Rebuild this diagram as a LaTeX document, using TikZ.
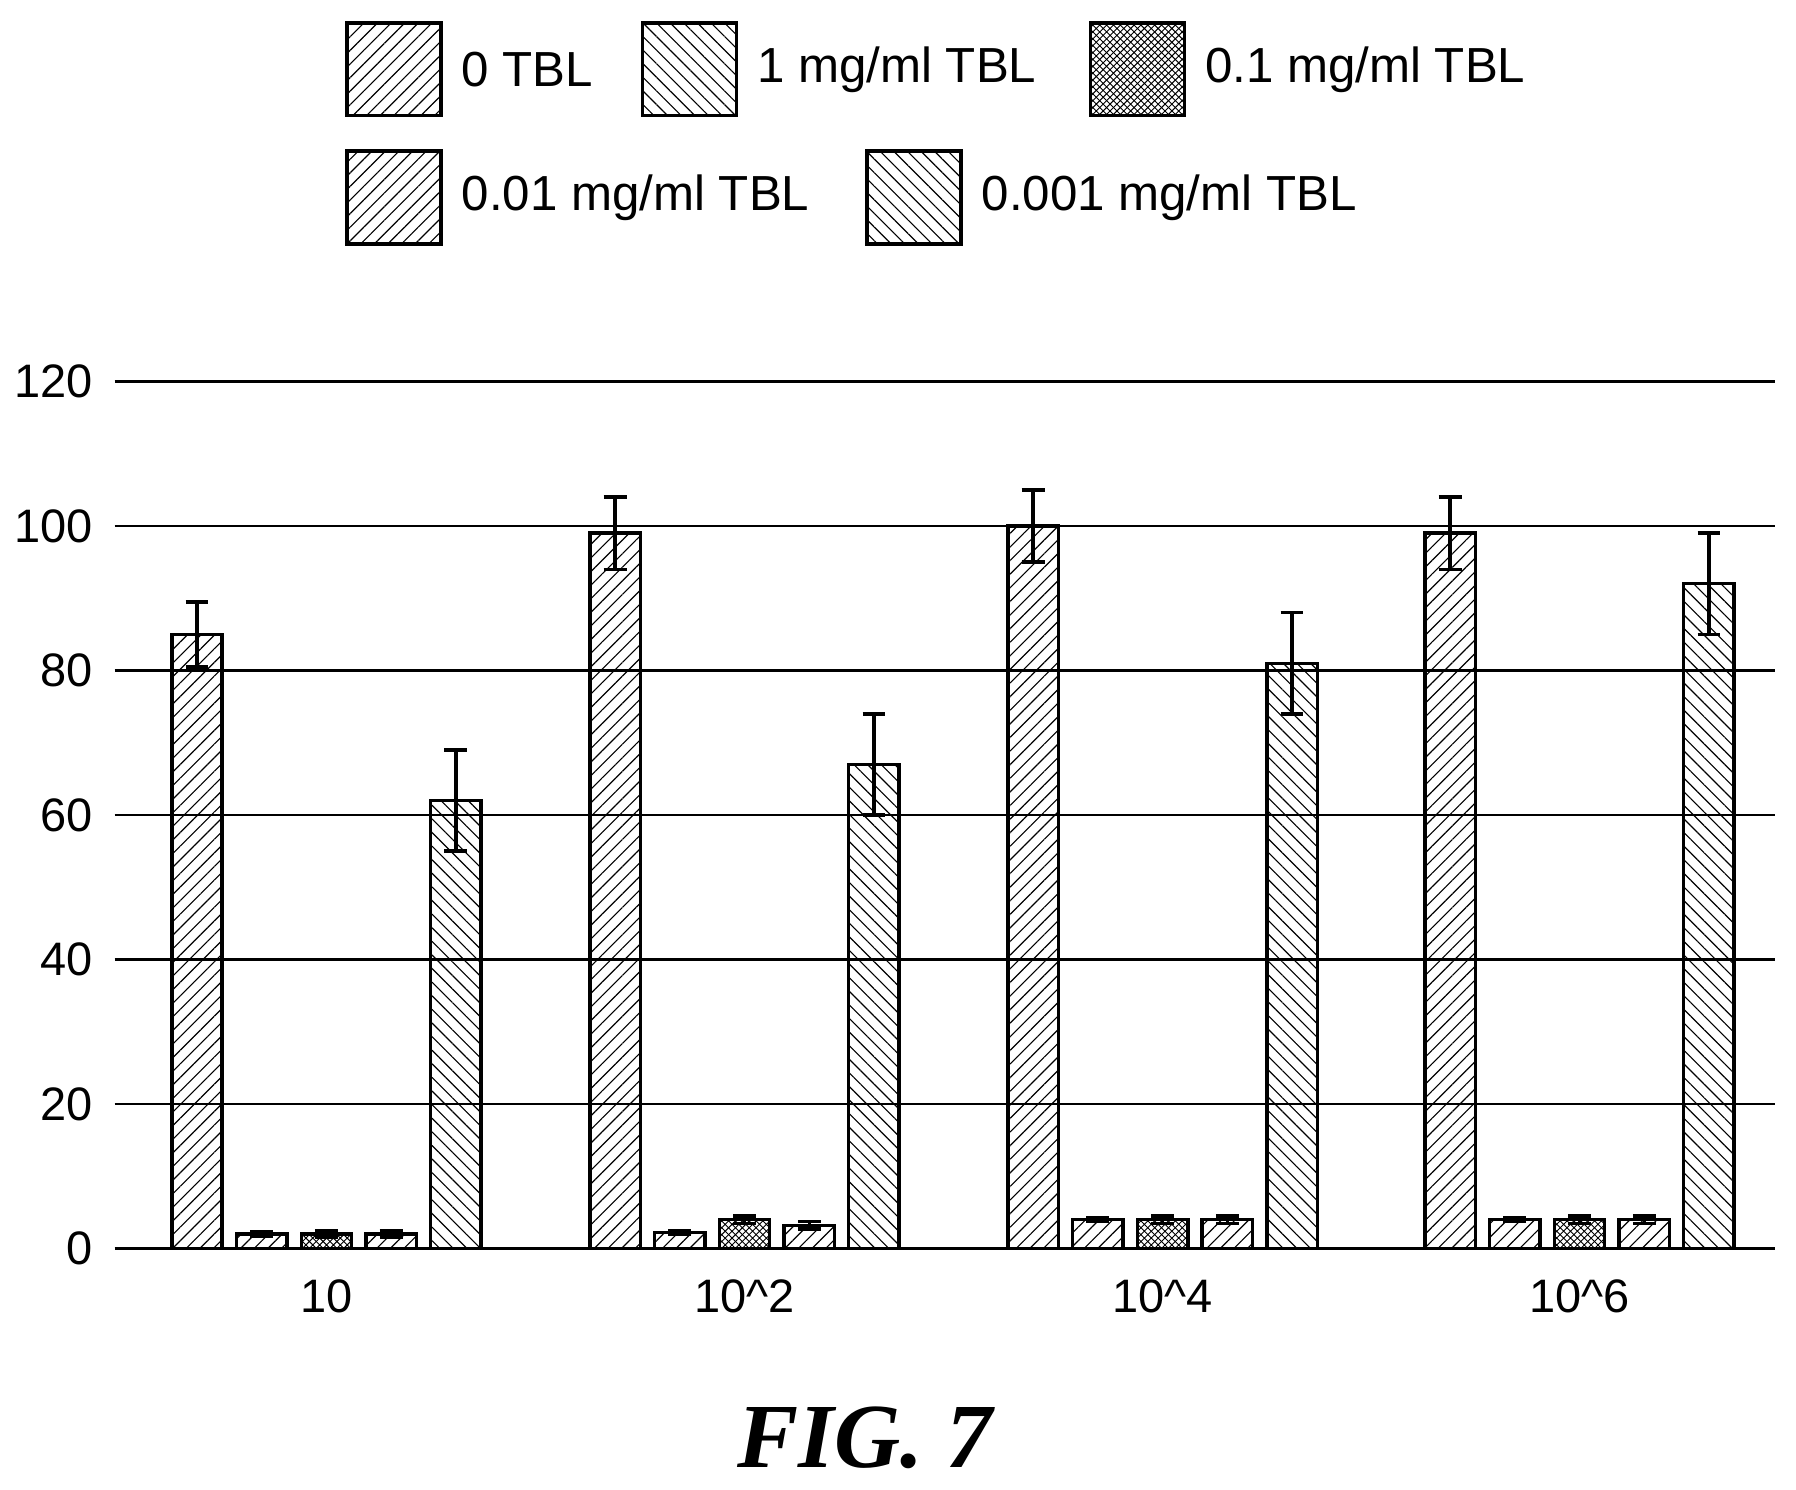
\documentclass[tikz,border=0pt]{standalone}
\usepackage{fontspec}
\setmainfont{Liberation Sans}
\newfontfamily\figfont{Liberation Serif}
\usetikzlibrary{patterns,patterns.meta}
\begin{document}
\begin{tikzpicture}[x=0.5pt,y=-0.5pt,
  bar/.style={draw=black,line width=1.5pt},
  pNE/.style={pattern={Lines[angle=45,distance=4.2pt,line width=0.5pt]}},
  pNW/.style={pattern={Lines[angle=-45,distance=4.2pt,line width=0.5pt]}},
  pCR/.style={pattern=crosshatch},
  grid/.style={line width=1pt},
  err/.style={line width=1.5pt},
  lbl/.style={font=\fontsize{20.5}{24}\selectfont},
  leg/.style={font=\fontsize{21.5}{24}\selectfont}]
\useasboundingbox (0,0) rectangle (1568,1300);
% grid
\foreach \v in {0,20,...,120}{
  \pgfmathsetmacro{\yy}{1090-\v*6.308}
  \draw[grid] (100,\yy) -- (1550,\yy);
  \node[lbl,anchor=east] (t\v) at (88,\yy) {\v};
}
% bars
\def\drawbar#1#2#3#4{% x, value, err, style
  \pgfmathsetmacro{\yt}{1090-#2*6.308}
  \pgfmathsetmacro{\ea}{1090-(#2+#3)*6.308}
  \pgfmathsetmacro{\eb}{1090-(#2-#3)*6.308}
  \filldraw[bar,#4] (#1,1090) rectangle (#1+44,\yt);
  \draw[err] (#1+22,\ea) -- (#1+22,\eb);
  \draw[err] (#1+12,\ea) -- (#1+32,\ea);
  \draw[err] (#1+12,\eb) -- (#1+32,\eb);
}
\foreach \g/\a/\b/\c/\d/\e/\ae/\ee/\lab in {
  150/85/2/2/2/62/4.5/7/10,
  515/99/2.2/4/3.2/67/5/7/10\textasciicircum 2,
  880/100/4/4/4/81/5/7/10\textasciicircum 4,
  1244/99/4/4/4/92/5/7/10\textasciicircum 6}{
  \drawbar{\g}{\a}{\ae}{pNE}
  \drawbar{\g+56.5}{\b}{0.3}{pNE}
  \drawbar{\g+113}{\c}{0.5}{pCR}
  \drawbar{\g+169.5}{\d}{0.5}{pNE}
  \drawbar{\g+226}{\e}{\ee}{pNW}
  \node[lbl] at (\g+135,1132) {\lab};
}
% legend
\foreach \x/\y/\s/\t in {303/20/pNE/{0 TBL}, 561/20/pNW/{1 mg/ml TBL}, 952/20/pCR/{0.1 mg/ml TBL},
  303/132/pNE/{0.01 mg/ml TBL}, 757/132/pNW/{0.001 mg/ml TBL}}{
  \filldraw[bar,\s] (\x,\y) rectangle (\x+82,\y+81);
  \node[leg,anchor=west] at (\x+93,\y+41) {\t};
}
\node[font=\figfont\bfseries\itshape\fontsize{40}{44}\selectfont] (fig) at (755,1255) {FIG. 7};
\end{tikzpicture}
\end{document}
